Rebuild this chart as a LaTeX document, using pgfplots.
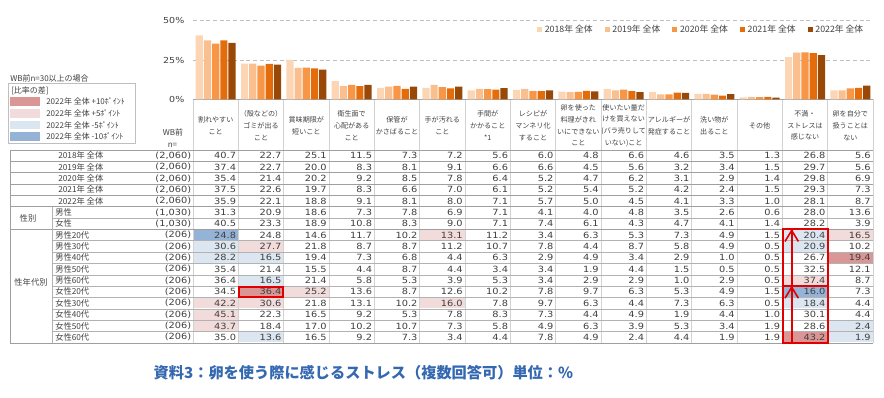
\documentclass[border=0pt]{standalone}
\usepackage{pgfplots}
\pgfplotsset{compat=1.18}
\usepackage{pgfplotstable}
\usepackage{fontspec}
\setmainfont{DejaVu Sans}
\newfontfamily\numf[FakeStretch=1.15]{DejaVu Sans}
\newfontfamily\jp{Noto Sans CJK JP}
\usetikzlibrary{arrows.meta}

\definecolor{c18}{HTML}{FCD5B5}
\definecolor{c19}{HTML}{FABF8F}
\definecolor{c20}{HTML}{F79646}
\definecolor{c21}{HTML}{E46C0A}
\definecolor{c22}{HTML}{984807}
\definecolor{dp}{HTML}{DA9694}
\definecolor{lp}{HTML}{F2DCDB}
\definecolor{lb}{HTML}{DCE6F1}
\definecolor{db}{HTML}{95B3D7}
\definecolor{txt}{HTML}{404040}
\definecolor{ttl}{RGB}{52,104,176}
\definecolor{gridc}{HTML}{BFBFBF}
\definecolor{redbox}{HTML}{E00000}

\pgfplotstableread{
x y18 y19 y20 y21 y22
0 40.7 37.4 35.4 37.5 35.9
1 22.7 22.7 21.4 22.6 22.1
2 25.1 20.0 20.2 19.7 18.8
3 11.5 8.3 9.2 8.3 9.1
4 7.3 8.1 8.5 6.6 8.1
5 7.2 9.1 7.8 7.0 8.0
6 5.6 6.6 6.4 6.1 7.1
7 6.0 6.6 5.2 5.2 5.7
8 4.8 4.5 4.7 5.4 5.0
9 6.6 5.6 6.2 5.2 4.5
10 4.6 3.2 3.1 4.2 4.1
11 3.5 3.4 2.9 2.4 3.3
12 1.3 1.5 1.4 1.5 1.0
13 26.8 29.7 29.8 29.3 28.1
14 5.6 5.6 6.9 7.3 8.7
}\bars

\begin{document}
\begin{tikzpicture}
\begin{scope}[x=0.75pt,y=-0.75pt]
\useasboundingbox (0,0) rectangle (884,398);
\coordinate (axO) at (193,99.3);
% highlighted cells
\foreach \r/\c/\col in {8/1/db, 8/6/lp, 8/14/lb, 8/15/lp, 9/1/lb, 9/2/lp, 9/14/lb, 10/1/lb, 10/2/lb, 10/15/dp, 12/2/lb, 12/14/lp, 13/2/dp, 13/3/lp, 13/14/db, 14/1/lp, 14/2/lp, 14/6/lp, 14/14/lb, 15/1/lp, 16/1/lp, 16/15/lb, 17/2/lb, 17/14/dp, 17/15/lb}
  \fill[\col] ({193+(\c-1)*45.333+0.5}, {150+(\r-1)*11.35+0.5}) rectangle ({193+\c*45.333-0.5}, {150+\r*11.35-0.5});
% grid lines
\foreach \k in {0,...,15} \draw[gray!35, line width=0.5pt] ({193+\k*45.333},99.3) -- ({193+\k*45.333},343);
\foreach \r in {0,...,5,7,17} \draw[gray!75, line width=0.5pt] (10,{150+\r*11.35}) -- (873,{150+\r*11.35});
\foreach \r in {6,8,9,...,16} \draw[gray!60, line width=0.5pt] (52,{150+\r*11.35}) -- (873,{150+\r*11.35});
\draw[gray!75, line width=0.5pt] (10,150) -- (10,343);
\draw[gray!60, line width=0.5pt] (52,{150+5*11.35}) -- (52,343);
% column headers
\foreach \h [count=\c] in {{割れやすい\\こと},{（殻などの）\\ゴミが出る\\こと},{賞味期限が\\短いこと},{衛生面で\\心配がある\\こと},{保管が\\かさばること},{手が汚れる\\こと},{手間が\\かかること\\*1},{レシピが\\マンネリ化\\すること},{卵を使った\\料理がきれ\\いにできない\\こと},{使いたい量だ\\けを買えない\\(バラ売りして\\いない)こと},{アレルギーが\\発症すること},{洗い物が\\出ること},{その他},{不満・\\ストレスは\\感じない},{卵を自分で\\扱うことは\\ない}}
  \node[align=center, inner sep=0pt, text=txt, font=\jp\fontsize{5.3}{8.8}\selectfont] at ({193+(\c-0.5)*45.333},125.5) {\h};
\node[inner sep=0pt, text=txt, font=\jp\fontsize{6}{7}\selectfont] at (173,132.3) {WB前};
\node[inner sep=0pt, text=txt, font=\jp\fontsize{6}{7}\selectfont] at (172.5,145) {n=};
% rows
\foreach \lab/\lx/\n/\vals [count=\r] in {
 {2018年 全体}/58/{(2,060)}/{40.7,22.7,25.1,11.5,7.3,7.2,5.6,6.0,4.8,6.6,4.6,3.5,1.3,26.8,5.6},
 {2019年 全体}/58/{(2,060)}/{37.4,22.7,20.0,8.3,8.1,9.1,6.6,6.6,4.5,5.6,3.2,3.4,1.5,29.7,5.6},
 {2020年 全体}/58/{(2,060)}/{35.4,21.4,20.2,9.2,8.5,7.8,6.4,5.2,4.7,6.2,3.1,2.9,1.4,29.8,6.9},
 {2021年 全体}/58/{(2,060)}/{37.5,22.6,19.7,8.3,6.6,7.0,6.1,5.2,5.4,5.2,4.2,2.4,1.5,29.3,7.3},
 {2022年 全体}/58/{(2,060)}/{35.9,22.1,18.8,9.1,8.1,8.0,7.1,5.7,5.0,4.5,4.1,3.3,1.0,28.1,8.7},
 {男性}/55/{(1,030)}/{31.3,20.9,18.6,7.3,7.8,6.9,7.1,4.1,4.0,4.8,3.5,2.6,0.6,28.0,13.6},
 {女性}/55/{(1,030)}/{40.5,23.3,18.9,10.8,8.3,9.0,7.1,7.4,6.1,4.3,4.7,4.1,1.4,28.2,3.9},
 {男性20代}/55/{(206)}/{24.8,24.8,14.6,11.7,10.2,13.1,11.2,3.4,6.3,5.3,7.3,4.9,1.5,20.4,16.5},
 {男性30代}/55/{(206)}/{30.6,27.7,21.8,8.7,8.7,11.2,10.7,7.8,4.4,8.7,5.8,4.9,0.5,20.9,10.2},
 {男性40代}/55/{(206)}/{28.2,16.5,19.4,7.3,6.8,4.4,6.3,2.9,4.9,3.4,2.9,1.0,0.5,26.7,19.4},
 {男性50代}/55/{(206)}/{35.4,21.4,15.5,4.4,8.7,4.4,3.4,3.4,1.9,4.4,1.5,0.5,0.5,32.5,12.1},
 {男性60代}/55/{(206)}/{36.4,16.5,21.4,5.8,5.3,3.9,5.3,3.4,2.9,2.9,1.0,2.9,0.5,37.4,8.7},
 {女性20代}/55/{(206)}/{34.5,36.4,25.2,13.6,8.7,12.6,10.2,7.8,9.7,6.3,5.3,4.9,1.5,16.0,7.3},
 {女性30代}/55/{(206)}/{42.2,30.6,21.8,13.1,10.2,16.0,7.8,9.7,6.3,4.4,7.3,6.3,0.5,18.4,4.4},
 {女性40代}/55/{(206)}/{45.1,22.3,16.5,9.2,5.3,7.8,8.3,7.3,4.4,4.9,1.9,4.4,1.0,30.1,4.4},
 {女性50代}/55/{(206)}/{43.7,18.4,17.0,10.2,10.7,7.3,5.8,4.9,6.3,3.9,5.3,3.4,1.9,28.6,2.4},
 {女性60代}/55/{(206)}/{35.0,13.6,16.5,9.2,7.3,3.4,4.4,7.8,4.9,2.4,4.4,1.9,1.9,43.2,1.9}}
{
  \node[anchor=west, inner sep=0pt, text=txt, font=\jp\fontsize{6.2}{7}\selectfont] at (\lx,{150+(\r-0.5)*11.35}) {\lab};
  \node[anchor=east, inner sep=0pt, text=txt, font=\numf\fontsize{6.4}{8}\selectfont] at (191.5,{150+(\r-0.5)*11.35}) {\n};
  \foreach \v [count=\c] in \vals
    \node[anchor=east, inner sep=0pt, text=txt, font=\numf\fontsize{6.4}{8}\selectfont] at ({193+\c*45.333-2},{150+(\r-0.5)*11.35}) {\v};
}
\node[text=txt, font=\jp\fontsize{6.2}{7}\selectfont] at (28,218.1) {性別};
\node[text=txt, font=\jp\fontsize{6.2}{7}\selectfont] at (31,282) {性年代別};
% left legend
\node[anchor=west, inner sep=0pt, text=txt, font=\jp\fontsize{6}{7}\selectfont] at (10,78) {WB前n=30以上の場合};
\draw[gray!50, line width=0.6pt] (8,83.5) rectangle (135,143);
\node[anchor=west, inner sep=0pt, text=txt, font=\jp\fontsize{6}{7}\selectfont] at (11,90.5) {[比率の差]};
\foreach \col/\t [count=\i] in {dp/+10, lp/+5, lb/-5, db/-10} {
  \fill[\col] (10,{101.6+(\i-1)*11.7-4.3}) rectangle (40,{101.6+(\i-1)*11.7+4.3});
  \node[anchor=west, inner sep=0pt, text=txt, font=\jp\fontsize{6}{7}\selectfont] at (46,{101.6+(\i-1)*11.7}) {2022年 全体 \t ﾎﾟｲﾝﾄ};
}
% red annotations
\draw[redbox, line width=1.5pt] (783,{150+7*11.35}) rectangle (827.5,{150+12*11.35});
\draw[redbox, line width=1.5pt] (783,{150+12*11.35}) rectangle (827.5,343);
\draw[redbox, line width=1.2pt] (791.7,{150+12*11.35}) -- (791.7,{150+7*11.35+1});
\draw[redbox, line width=1.2pt] (785,{150+7*11.35+12}) -- (791.7,{150+7*11.35+1}) -- (798.4,{150+7*11.35+12});
\draw[redbox, line width=1.2pt] (791.7,343) -- (791.7,{150+12*11.35+1});
\draw[redbox, line width=1.2pt] (785,{150+12*11.35+12}) -- (791.7,{150+12*11.35+1}) -- (798.4,{150+12*11.35+12});
\draw[redbox, line width=1.3pt] (239,{150+12*11.35+0.6}) rectangle (283,{150+13*11.35-0.6});
% title
\node[text=ttl, font=\jp\bfseries\fontsize{11.4}{13}\selectfont] at (363.4,372.3) {資料3：卵を使う際に感じるストレス（複数回答可）単位：\%};
\end{scope}
\begin{axis}[
  at={(axO)}, anchor=south west,
  scale only axis, width=510pt, height=58.95pt,
  xmin=-0.5, xmax=14.5, ymin=0, ymax=50,
  ybar=0.75pt, bar width=5.4pt,
  axis x line=bottom, axis y line=left,
  x axis line style={-, draw=gray!70},
  y axis line style={draw=none},
  xtick=\empty, ytick={0,25,50}, yticklabels={0\%,25\%,50\%},
  major tick length=0pt,
  yticklabel style={font=\numf\fontsize{6.2}{7}\selectfont, text=txt, xshift=-3pt},
  ymajorgrids, major grid style={densely dashed, draw=gridc, line width=0.5pt},
  legend image code/.code={\fill[#1] (0pt,-1.9pt) rectangle (3.8pt,1.9pt);},
  legend style={at={(0.99,0.89)}, anchor=east, draw=none, fill=none, legend columns=5,
    font=\jp\fontsize{6.6}{7}\selectfont, text=txt, inner sep=0pt,
    /tikz/every even column/.append style={column sep=7pt}},
]
\addplot[fill=c18, draw=none] table[x=x,y=y18]{\bars};
\addplot[fill=c19, draw=none] table[x=x,y=y19]{\bars};
\addplot[fill=c20, draw=none] table[x=x,y=y20]{\bars};
\addplot[fill=c21, draw=none] table[x=x,y=y21]{\bars};
\addplot[fill=c22, draw=none] table[x=x,y=y22]{\bars};
\addlegendentry{2018年 全体}
\addlegendentry{2019年 全体}
\addlegendentry{2020年 全体}
\addlegendentry{2021年 全体}
\addlegendentry{2022年 全体}
\end{axis}
\end{tikzpicture}
\end{document}
